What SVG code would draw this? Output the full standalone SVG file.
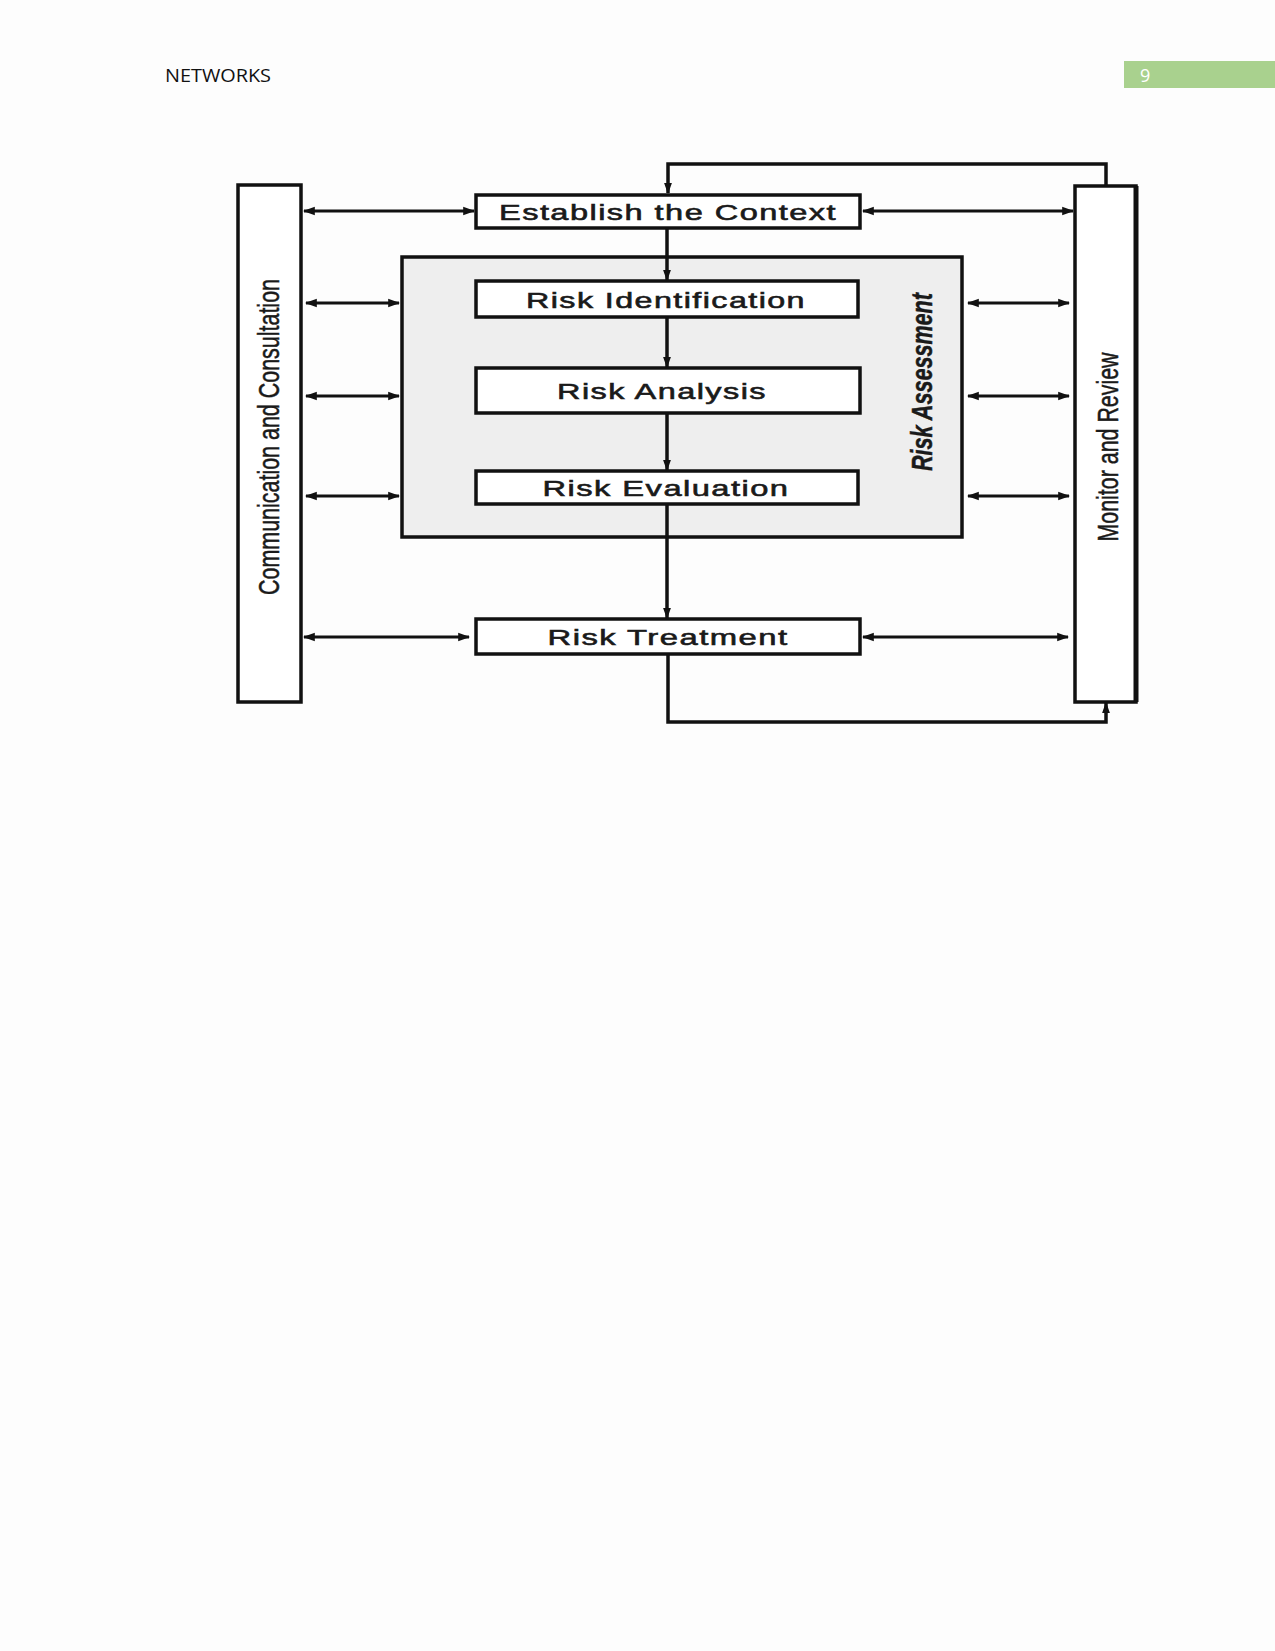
<svg xmlns="http://www.w3.org/2000/svg" width="1275" height="1651" viewBox="0 0 1275 1651">
<defs>
<marker id="ah" viewBox="0 0 10 10" refX="9" refY="5" markerWidth="4" markerHeight="4" orient="auto-start-reverse" markerUnits="strokeWidth">
<path d="M0,1.5 L10,5 L0,8.5 Z" fill="#111"/>
</marker>
<marker id="ahb" viewBox="0 0 10 10" refX="9" refY="5" markerWidth="3.2" markerHeight="3.2" orient="auto-start-reverse" markerUnits="strokeWidth">
<path d="M0,1.5 L10,5 L0,8.5 Z" fill="#111"/>
</marker>
</defs>
<style>
.box{fill:#fff;stroke:#111;stroke-width:3.5}
.side{fill:#fff;stroke:#111;stroke-width:3.5}
.lbl{font-family:"Liberation Sans",Arial,sans-serif;font-size:22.5px;font-weight:normal;fill:#1a1a1a;stroke:#1a1a1a;stroke-width:0.6;text-anchor:middle;letter-spacing:1px}
.vt{font-family:"Liberation Sans",Arial,sans-serif;font-size:30px;fill:#1a1a1a;stroke:#1a1a1a;stroke-width:0.5;text-anchor:middle}
.h{stroke:#111;stroke-width:3;fill:none;marker-start:url(#ah);marker-end:url(#ah)}
.v{stroke:#111;stroke-width:3.5;fill:none;marker-end:url(#ahb)}
.fb{stroke:#111;stroke-width:3.5;fill:none}
</style>
<rect x="0" y="0" width="1275" height="1651" fill="#fdfdfd"/>
<g id="header">
<text x="165" y="82" font-family="Open Sans,Liberation Sans,sans-serif" font-size="18" fill="#111" textLength="106" lengthAdjust="spacingAndGlyphs">NETWORKS</text>
<rect x="1124" y="61" width="151" height="27" fill="#a9d18e"/>
<text x="1140" y="82" font-family="Open Sans,Liberation Sans,sans-serif" font-size="18" fill="#fff">9</text>
</g>
<g id="risk-assessment">
<rect x="402" y="257" width="560" height="280" fill="#eeeeee" stroke="#111" stroke-width="3.5"/>
<text class="vt" transform="translate(932,382) rotate(-90)" font-weight="bold" font-style="italic" stroke-width="0" textLength="178" lengthAdjust="spacingAndGlyphs">Risk Assessment</text>
</g>
<g id="communication">
<rect class="side" x="238" y="185" width="63" height="517"/>
<text class="vt" transform="translate(279,437) rotate(-90)" textLength="316" lengthAdjust="spacingAndGlyphs">Communication and Consultation</text>
</g>
<g id="monitor">
<rect class="side" x="1075" y="186" width="61" height="516"/>
<line x1="1136" y1="186" x2="1136" y2="702" stroke="#111" stroke-width="5"/>
<text class="vt" transform="translate(1118,447) rotate(-90)" textLength="189" lengthAdjust="spacingAndGlyphs">Monitor and Review</text>
</g>
<g id="context">
<rect class="box" x="476" y="195" width="384" height="33"/>
<text class="lbl" x="668" y="220" textLength="338" lengthAdjust="spacingAndGlyphs">Establish the Context</text>
</g>
<g id="identification">
<rect class="box" x="476" y="281" width="382" height="36"/>
<text class="lbl" x="666" y="308" textLength="280" lengthAdjust="spacingAndGlyphs">Risk Identification</text>
</g>
<g id="analysis">
<rect class="box" x="476" y="368" width="384" height="45"/>
<text class="lbl" x="662" y="399" textLength="210" lengthAdjust="spacingAndGlyphs">Risk Analysis</text>
</g>
<g id="evaluation">
<rect class="box" x="476" y="471" width="382" height="33"/>
<text class="lbl" x="666" y="496" textLength="247" lengthAdjust="spacingAndGlyphs">Risk Evaluation</text>
</g>
<g id="treatment">
<rect class="box" x="476" y="619" width="384" height="35"/>
<text class="lbl" x="668" y="645" textLength="241" lengthAdjust="spacingAndGlyphs">Risk Treatment</text>
</g>
<g id="connectors">
<line class="h" x1="304" y1="211" x2="474" y2="211"/>
<line class="h" x1="863" y1="211" x2="1073" y2="211"/>
<line class="h" x1="306" y1="303" x2="399" y2="303"/>
<line class="h" x1="306" y1="396" x2="399" y2="396"/>
<line class="h" x1="306" y1="496" x2="399" y2="496"/>
<line class="h" x1="968" y1="303" x2="1069" y2="303"/>
<line class="h" x1="968" y1="396" x2="1069" y2="396"/>
<line class="h" x1="968" y1="496" x2="1069" y2="496"/>
<line class="h" x1="304" y1="637" x2="469" y2="637"/>
<line class="h" x1="863" y1="637" x2="1068" y2="637"/>
<line class="v" x1="667" y1="229" x2="667" y2="280"/>
<line class="v" x1="667" y1="318" x2="667" y2="367"/>
<line class="v" x1="667" y1="414" x2="667" y2="470"/>
<line class="v" x1="667" y1="505" x2="667" y2="618"/>
<polyline class="fb" points="1106,186 1106,164 668,164 668,193" marker-end="url(#ahb)"/>
<polyline class="fb" points="668,655 668,722 1106,722 1106,703" marker-end="url(#ahb)"/>
</g>
</svg>
